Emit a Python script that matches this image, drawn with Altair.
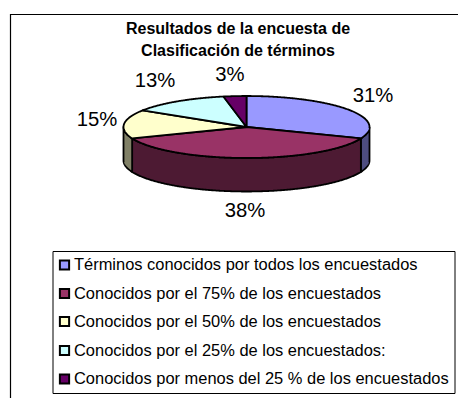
import math
import altair as alt
import pandas as pd

# --- data
categories = [
    "Términos conocidos por todos los encuestados",
    "Conocidos por el 75% de los encuestados",
    "Conocidos por el 50% de los encuestados",
    "Conocidos por el 25% de los encuestados:",
    "Conocidos por menos del 25 % de los encuestados",
]
shares = [31, 38, 15, 13, 3]
title_lines = ["Resultados de la encuesta de", "Clasificación de términos"]

# --- styling and layout (reference-pixel space)
top_colors = ["#9999FF", "#993366", "#FFFFCC", "#CCFFFF", "#660066"]
side_colors = ["#4D4D80", "#4D1A33", "#808066", "#668080", "#330033"]
CX, CY, RX, RY, DEPTH = 246.5, 127.0, 123.0, 31.0, 33.5
label_pos = [(373, 96), (245, 211), (97, 120), (155, 81), (230, 75)]
legend_x, legend_rows = 74, [265, 293.5, 321.5, 350.5, 379]
W, H = 450, 390


def pt(deg, dy=0.0):
    r = math.radians(deg)
    return CX + RX * math.sin(r), CY - RY * math.cos(r) + dy


rows = []
total = sum(shares)
a0 = 0.0
spans = []
for s in shares:
    a1 = a0 + 360 * s / total
    spans.append((a0, a1))
    a0 = a1


def add(poly_id, fill, pts):
    for i, (x, y) in enumerate(pts):
        rows.append({"poly": poly_id, "i": i, "x": x, "y": y, "fill": fill})


# side walls: only the front half (90..270 degrees clockwise from the top) shows
for k, (a, b) in enumerate(spans):
    lo, hi = max(a, 90), min(b, 270)
    if lo >= hi:
        continue
    n = max(2, int((hi - lo) * 2))
    arc = [lo + (hi - lo) * j / n for j in range(n + 1)]
    p = [pt(t) for t in arc] + [pt(t, DEPTH) for t in reversed(arc)]
    p.append(p[0])
    add(f"a{k}", side_colors[k], p)

# top faces
for k, (a, b) in enumerate(spans):
    n = max(2, int((b - a) * 2))
    arc = [a + (b - a) * j / n for j in range(n + 1)]
    p = [(CX, CY)] + [pt(t) for t in arc] + [(CX, CY)]
    add(f"b{k}", top_colors[k], p)

x_s = alt.Scale(domain=[8, 8 + W], range=[0, W], nice=False, zero=False, padding=0)
y_s = alt.Scale(domain=[8, 8 + H], range=[0, H], nice=False, zero=False, padding=0)
X = lambda f="x": alt.X(f, type="quantitative", scale=x_s, axis=None)
Y = lambda f="y": alt.Y(f, type="quantitative", scale=y_s, axis=None)
FONT = "Liberation Sans"

frame = pd.DataFrame({"x": [10.5, 10.5, 8 + W], "y": [8 + H, 14.5, 14.5], "i": [0, 1, 2]})
frame_layer = alt.Chart(frame).mark_line(color="#000000", strokeWidth=1.2).encode(
    x=X(), y=Y(), order="i:O")

layers = [frame_layer]
df = pd.DataFrame(rows)
for pid, g in df.groupby("poly", sort=True):
    layers.append(
        alt.Chart(g).mark_line(fill=g["fill"].iloc[0], stroke="#000000", strokeWidth=1.8,
                               strokeJoin="round")
        .encode(x=X(), y=Y(), order="i:Q")
    )

labels = pd.DataFrame({
    "t": [f"{s}%" for s in shares],
    "x": [p[0] for p in label_pos],
    "y": [p[1] for p in label_pos],
})
layers.append(alt.Chart(labels).mark_text(font=FONT, fontSize=20.3, color="#000000").encode(
    x=X(), y=Y(), text="t:N"))

titles = pd.DataFrame({"t": title_lines, "x": [238, 238], "y": [29, 51]})
layers.append(alt.Chart(titles).mark_text(font=FONT, fontSize=16, fontWeight="bold",
                                          color="#000000").encode(x=X(), y=Y(), text="t:N"))

box = pd.DataFrame({"x": [53], "x2": [455], "y": [251.5], "y2": [393.5]})
layers.append(alt.Chart(box).mark_rect(fill="#FFFFFF", stroke="#000000", strokeWidth=1).encode(
    x=X(), x2="x2:Q", y=Y(), y2="y2:Q"))

leg = pd.DataFrame({
    "t": categories,
    "c": top_colors,
    "x": [legend_x] * 5,
    "sx": [64.5] * 5,
    "y": legend_rows,
})
layers.append(alt.Chart(leg).mark_square(size=85, stroke="#000000", strokeWidth=2, opacity=1).encode(
    x=X("sx"), y=Y(), fill=alt.Fill("c:N", scale=None)))
layers.append(alt.Chart(leg).mark_text(font=FONT, fontSize=16.45, align="left", color="#000000").encode(
    x=X(), y=Y(), text="t:N"))

chart = alt.layer(*layers).properties(
    width=W, height=H, padding=0, background="#FFFFFF",
    autosize=alt.AutoSizeParams(type="none"),
).configure_view(stroke=None)
chart.save("out.html", embed_options={"renderer": "svg", "actions": False})
